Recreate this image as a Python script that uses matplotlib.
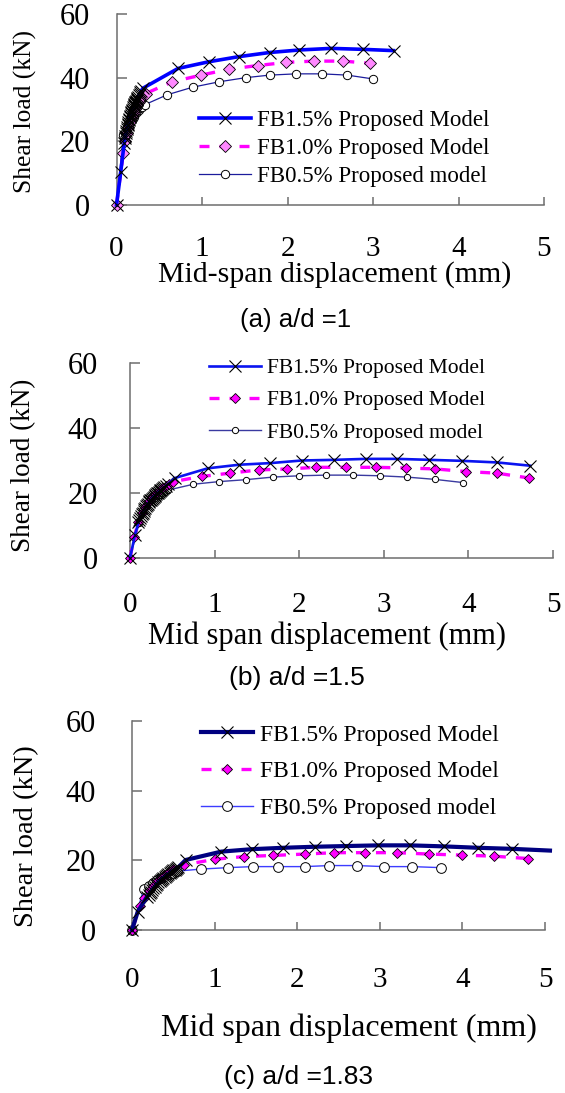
import matplotlib
matplotlib.use("Agg")
import matplotlib.pyplot as plt

# ---------------- data ----------------
# (a) a/d = 1
a15_x = [0, 0.05, 0.09, 0.10, 0.105, 0.11, 0.115, 0.12, 0.125, 0.13, 0.135, 0.14, 0.145, 0.15, 0.155,
         0.16, 0.165, 0.17, 0.175, 0.18, 0.185, 0.19, 0.195, 0.20, 0.205, 0.21, 0.215, 0.22, 0.225,
         0.23, 0.235, 0.24, 0.245, 0.25, 0.26, 0.27, 0.28, 0.29, 0.31,
         0.72, 1.08, 1.43, 1.79, 2.14, 2.51, 2.88, 3.24]
a15_y = [0, 10.5, 19.4, 21, 21.8, 22.5, 23.2, 23.8, 24.4, 25, 25.6, 26.1, 26.6, 27.1, 27.6,
         28, 28.4, 28.8, 29.2, 29.6, 30, 30.3, 30.7, 31, 31.3, 31.6, 31.9, 32.2, 32.5,
         32.8, 33.1, 33.4, 33.6, 33.9, 34.4, 34.9, 35.4, 35.9, 36.7,
         42.9, 45, 46.6, 47.9, 48.7, 49.2, 48.9, 48.5]
a10_x = [0, 0.08, 0.1, 0.12, 0.14, 0.16, 0.18, 0.2, 0.22, 0.24, 0.26, 0.28, 0.3, 0.34, 0.65, 0.99,
         1.32, 1.65, 1.98, 2.31, 2.65, 2.97]
a10_y = [0, 16.4, 20, 22.5, 24.5, 26.2, 27.7, 29, 30.2, 31.3, 32.3, 33.2, 34, 35, 38.7, 40.8,
         42.7, 43.8, 44.8, 45.2, 45.2, 44.5]
a05_x = [0, 0.08, 0.1, 0.12, 0.14, 0.16, 0.18, 0.2, 0.22, 0.24, 0.26, 0.28, 0.3, 0.33, 0.59, 0.89,
         1.2, 1.51, 1.79, 2.1, 2.4, 2.7, 3.0]
a05_y = [0, 22, 23, 24, 25, 26, 27, 27.8, 28.5, 29.2, 29.8, 30.4, 30.9, 31.5, 34.6, 37,
         38.7, 40, 40.8, 41.2, 41.2, 40.8, 39.6]

# (b) a/d = 1.5
b15_x = [0, 0.06, 0.10, 0.11, 0.12, 0.13, 0.14, 0.15, 0.16, 0.17, 0.18, 0.19, 0.20, 0.21, 0.22,
         0.23, 0.24, 0.25, 0.26, 0.27, 0.28, 0.29, 0.30, 0.31, 0.32, 0.33, 0.34, 0.35, 0.36,
         0.37, 0.38, 0.39, 0.40, 0.42, 0.45,
         0.53, 0.92, 1.29, 1.66, 2.03, 2.41, 2.79, 3.16, 3.54, 3.92, 4.34, 4.73]
b15_y = [0, 7.2, 11, 11.7, 12.3, 12.8, 13.4, 14, 14.5, 15, 15.4, 15.9, 16.3, 16.7, 17.1,
         17.4, 17.7, 18, 18.3, 18.6, 18.9, 19.1, 19.4, 19.6, 19.9, 20.1, 20.4, 20.6, 20.8,
         21, 21.3, 21.5, 21.7, 22.1, 22.8,
         24.6, 27.6, 28.7, 29.2, 30, 30.2, 30.5, 30.5, 30.2, 29.9, 29.4, 28.4]
b10_x = [0, 0.05, 0.1, 0.14, 0.18, 0.22, 0.26, 0.3, 0.34, 0.38, 0.42, 0.46, 0.51, 0.85, 1.18, 1.52,
         1.86, 2.2, 2.55, 2.91, 3.26, 3.61, 3.97, 4.34, 4.72]
b10_y = [0, 6.5, 11.2, 13.8, 15.8, 17.4, 18.7, 19.8, 20.7, 21.5, 22.2, 22.8, 23.5, 25.1, 26.1, 27.1,
         27.4, 27.9, 27.9, 27.9, 27.7, 27.4, 26.6, 26.1, 24.6]
b05_x = [0, 0.11, 0.14, 0.17, 0.2, 0.23, 0.26, 0.29, 0.32, 0.35, 0.38, 0.41, 0.45, 0.75, 1.05, 1.37,
         1.69, 2.0, 2.32, 2.64, 2.95, 3.27, 3.6, 3.94]
b05_y = [0, 10.9, 14.8, 15.6, 16.4, 17.1, 17.8, 18.4, 19, 19.5, 20, 20.4, 20.9, 22.7, 23.5, 24.1,
         24.9, 25.3, 25.5, 25.5, 25.3, 24.9, 24.2, 23.2]

# (c) a/d = 1.83
c15_x = [0, 0.07, 0.18, 0.2, 0.215, 0.23, 0.245, 0.26, 0.275, 0.29, 0.305, 0.32, 0.335, 0.35, 0.365,
         0.38, 0.395, 0.41, 0.425, 0.44, 0.455, 0.47, 0.485, 0.5, 0.515, 0.53, 0.545, 0.56,
         0.65, 1.08, 1.45, 1.83, 2.21, 2.59, 2.98, 3.37, 3.78, 4.19, 4.6, 5.06]
c15_y = [0, 5.3, 9.5, 10, 10.5, 11, 11.5, 12, 12.4, 12.9, 13.3, 13.7, 14.1, 14.4, 14.7,
         15, 15.3, 15.6, 15.8, 16.1, 16.3, 16.6, 16.8, 17.1, 17.3, 17.6, 17.8, 18,
         20.1, 22.5, 23.2, 23.6, 23.9, 24.1, 24.3, 24.3, 24.0, 23.6, 23.3, 22.8]
c10_x = [0, 0.1, 0.15, 0.2, 0.25, 0.3, 0.35, 0.4, 0.45, 0.5, 0.63, 1.0, 1.36, 1.71, 2.09, 2.45,
         2.82, 3.21, 3.59, 3.99, 4.38, 4.8]
c10_y = [0, 7, 9.3, 11.2, 12.7, 14, 15, 15.9, 16.7, 17.4, 18.7, 20.3, 21.1, 21.4, 21.8, 22.2,
         22.2, 22.2, 21.8, 21.5, 21.2, 20.5]
c05_x = [0, 0.14, 0.2, 0.25, 0.3, 0.35, 0.4, 0.45, 0.5, 0.55, 0.84, 1.16, 1.46, 1.77, 2.09, 2.39,
         2.72, 3.05, 3.39, 3.74]
c05_y = [0, 11.7, 12.5, 13.5, 14.3, 15, 15.6, 16.1, 16.5, 16.9, 17.5, 17.9, 18.2, 18.2, 18.2, 18.5,
         18.5, 18.2, 18.2, 17.9]

labels = ["FB1.5% Proposed Model", "FB1.0% Proposed Model", "FB0.5% Proposed model"]
x_ticks = [0, 1, 2, 3, 4, 5]
y_ticks = [0, 20, 40, 60]
ylabel = "Shear load (kN)"
xlabels = ["Mid-span displacement (mm)", "Mid span displacement (mm)", "Mid span displacement (mm)"]
captions = ["(a) a/d =1", "(b) a/d =1.5", "(c) a/d =1.83"]

SERIF = "Liberation Serif"
SANS = "Liberation Sans"

W, H = 565, 1093
fig = plt.figure(figsize=(W / 100, H / 100), dpi=100)

def fx(px):
    return px / W

def fy(py):
    return 1 - py / H

panels = [
    dict(box=(116.5, 14, 544, 205),
         series=[(a15_x, a15_y), (a10_x, a10_y), (a05_x, a05_y)],
         c15="#0000ff", lw15=2.6, c05="#1c1c9c", lw05=0.9,
         ms15=8, ms10=6.5, ms05=6, fc10="#ff88ff",
         leg=(199, 110, 16.5), ls=0.30,
         ylab=(25, 111.5, 18.4), xlab=(335, 275, 21.5), cap=(296, 320, 18.5),
         ypad=19, xpad=22),
    dict(box=(130, 363, 553, 558),
         series=[(b15_x, b15_y), (b10_x, b10_y), (b05_x, b05_y)],
         c15="#0a14f0", lw15=1.9, c05="#3a3aa0", lw05=1.0,
         ms15=8, ms10=5, ms05=4.5, fc10="#ff00ff",
         leg=(209, 358, 15.5), ls=0.57,
         ylab=(23.5, 465, 19.5), xlab=(327, 636, 22), cap=(297, 678, 19),
         ypad=23, xpad=24),
    dict(box=(132, 721, 545, 930),
         series=[(c15_x, c15_y), (c10_x, c10_y), (c05_x, c05_y)],
         c15="#000080", lw15=3.0, c05="#3c3cff", lw05=1.0,
         ms15=8, ms10=5.5, ms05=7, fc10="#ff00ff",
         leg=(201, 724, 17), ls=0.64,
         ylab=(27, 836, 20.5), xlab=(349, 1028, 23), cap=(298, 1077, 19),
         ypad=26, xpad=26),
]

for i, p in enumerate(panels):
    x0, y0, x1, y1 = p["box"]
    ax = fig.add_axes([fx(x0), fy(y1), (x1 - x0) / W, (y1 - y0) / H])
    (s15x, s15y), (s10x, s10y), (s05x, s05y) = p["series"]

    mev = slice(0, len(s15x) - 1) if i == 2 else None
    ax.plot(s15x, s15y, color=p["c15"], lw=p["lw15"], marker="x", ms=p["ms15"],
            mec="black", mew=0.8, markevery=mev, clip_on=False, label=labels[0], zorder=4)
    ax.plot(s10x, s10y, color="#ff00ff", lw=2.4, ls=(0, (3, 3)), marker="D", ms=p["ms10"],
            mfc=p["fc10"], mec="black", mew=0.6, clip_on=False, label=labels[1], zorder=3)
    ax.plot(s05x, s05y, color=p["c05"], lw=p["lw05"], marker="o", ms=p["ms05"],
            mfc="white", mec="black", mew=0.7, clip_on=False, label=labels[2], zorder=2)

    ax.set_xlim(0, 5)
    ax.set_ylim(0, 60)
    ax.set_xticks(x_ticks)
    ax.set_yticks(y_ticks)
    for side in ("top", "right"):
        ax.spines[side].set_visible(False)
    for side in ("left", "bottom"):
        ax.spines[side].set_color("#6e6e6e")
        ax.spines[side].set_linewidth(1.1)
    ax.tick_params(axis="x", direction="in", length=5.5, width=1.1, color="#6e6e6e",
                   pad=p["xpad"] + 0.5, labelsize=21)
    ax.tick_params(axis="y", direction="in", length=7, width=1.1, color="#6e6e6e",
                   pad=p["ypad"], labelsize=22)
    for lab in ax.get_xticklabels() + ax.get_yticklabels():
        lab.set_family(SERIF)

    ax.set_ylabel(ylabel, family=SERIF, fontsize=p["ylab"][2], va="center")
    ax.yaxis.set_label_coords(fx(p["ylab"][0]), fy(p["ylab"][1]), transform=fig.transFigure)
    ax.set_xlabel(xlabels[i], family=SERIF, fontsize=p["xlab"][2], va="center")
    ax.xaxis.set_label_coords(fx(p["xlab"][0]), fy(p["xlab"][1]), transform=fig.transFigure)

    fig.text(fx(p["cap"][0]), fy(p["cap"][1]), captions[i], family=SANS,
             fontsize=p["cap"][2], ha="center", va="center")

    lx, ly, lfs = p["leg"]
    leg = ax.legend(loc="upper left", bbox_to_anchor=(fx(lx), fy(ly)),
                    bbox_transform=fig.transFigure, frameon=False, borderpad=0,
                    borderaxespad=0, handlelength=52 / (lfs * 100 / 72),
                    handletextpad=0.28, labelspacing=p["ls"],
                    prop={"family": SERIF, "size": lfs})

fig.savefig("out.png", dpi=100)
